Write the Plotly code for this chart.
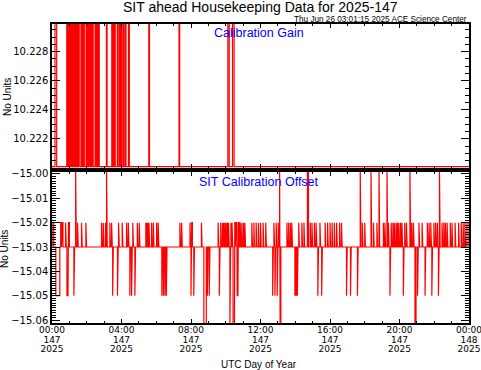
import plotly.graph_objects as go
from plotly.subplots import make_subplots

# ---------------- data ----------------
# Calibration Gain: baseline low value with short excursions to the high value (hours UTC)
gain_low = 10.2201
gain_high = 10.2300
gain_start = [0.17, 0.85, 0.94, 1.02, 1.10, 1.18, 1.27, 1.35, 1.44, 1.53, 1.70, 1.80,
              1.96, 2.04, 2.13, 2.22, 2.31, 2.48, 2.58, 2.68, 3.13, 3.44, 3.52, 3.60,
              3.76, 3.88, 3.98, 4.10, 4.22, 4.40, 5.57, 7.31, 10.12, 10.39]
gain_end = [0.27, 0.89, 1.00, 1.08, 1.16, 1.24, 1.33, 1.41, 1.50, 1.61, 1.75, 1.86,
            2.02, 2.10, 2.19, 2.28, 2.37, 2.52, 2.62, 2.72, 3.17, 3.48, 3.56, 3.64,
            3.80, 3.92, 4.02, 4.14, 4.26, 4.45, 5.61, 7.35, 10.20, 10.48]

# SIT Calibration Offset: baseline with excursions (start hour, end hour, value)
off_base = -15.03
off_start = [0.00, 0.22, 0.50, 0.58, 0.78, 0.86, 0.95, 1.26, 1.36, 1.47, 1.70, 1.95,
             2.85, 2.95, 3.08, 3.14, 3.33, 3.43, 3.49, 3.77, 3.83, 4.04, 4.29, 4.39,
             4.48, 4.58, 4.65, 4.77, 4.91, 5.02, 5.40, 5.46, 5.52, 5.58, 5.73, 5.83,
             6.02, 6.11, 6.32, 6.41, 6.50, 6.58, 7.36, 7.46, 7.94, 8.00, 8.04, 8.16,
             8.60, 8.74, 8.94, 9.05, 9.56, 9.63, 9.71, 9.81, 9.87, 9.95, 10.02, 10.10,
             10.16, 10.24, 10.30, 10.36, 10.42, 10.52, 10.60, 10.66, 10.73, 10.83, 10.92, 11.02,
             11.10, 11.50, 11.62, 11.75, 11.88, 12.00, 12.15, 12.30, 12.70, 12.77, 12.83, 12.90,
             12.96, 13.02, 13.10, 13.13, 13.52, 13.62, 13.72, 13.80, 13.98, 14.05, 14.12, 14.20,
             14.38, 14.50, 14.70, 14.86, 14.96, 15.10, 15.20, 15.30, 15.42, 15.52, 15.72, 15.86,
             16.00, 16.12, 16.25, 16.38, 16.55, 16.66, 16.95, 17.18, 17.58, 17.74, 17.86, 18.00,
             18.36, 18.50, 18.70, 18.82, 19.07, 19.16, 19.28, 19.36, 19.45, 19.52, 19.62, 19.70,
             19.80, 19.88, 19.96, 20.06, 20.14, 20.22, 20.30, 20.40, 20.60, 20.70, 20.80, 20.89,
             21.04, 21.12, 21.30, 21.47, 21.60, 21.70, 21.80, 21.86, 21.98, 22.08, 22.18, 22.24,
             22.30, 22.45, 22.55, 22.64, 22.74, 22.92, 23.02, 23.20, 23.40, 23.55, 23.66, 23.76,
             23.88]
off_end = [0.10, 0.45, 0.55, 0.63, 0.82, 0.92, 1.00, 1.30, 1.40, 1.51, 1.74, 1.99,
           2.89, 2.99, 3.12, 3.18, 3.37, 3.47, 3.53, 3.81, 3.87, 4.08, 4.33, 4.43,
           4.52, 4.62, 4.69, 4.81, 4.95, 5.06, 5.44, 5.50, 5.56, 5.62, 5.77, 5.87,
           6.06, 6.15, 6.36, 6.45, 6.54, 6.62, 7.40, 7.50, 7.98, 8.04, 8.08, 8.20,
           8.64, 8.88, 8.98, 9.09, 9.60, 9.67, 9.75, 9.85, 9.91, 9.99, 10.06, 10.14,
           10.20, 10.28, 10.34, 10.40, 10.50, 10.56, 10.64, 10.70, 10.77, 10.87, 10.96, 11.06,
           11.14, 11.54, 11.66, 11.79, 11.92, 12.04, 12.19, 12.34, 12.74, 12.81, 12.87, 12.94,
           13.00, 13.06, 13.13, 13.17, 13.56, 13.66, 13.76, 13.84, 14.02, 14.09, 14.16, 14.24,
           14.42, 14.54, 14.76, 14.90, 15.00, 15.14, 15.24, 15.34, 15.46, 15.56, 15.76, 15.90,
           16.04, 16.16, 16.29, 16.42, 16.59, 16.70, 16.99, 17.22, 17.62, 17.78, 17.90, 18.04,
           18.40, 18.54, 18.74, 18.86, 19.11, 19.20, 19.32, 19.40, 19.49, 19.56, 19.66, 19.74,
           19.84, 19.92, 20.00, 20.10, 20.18, 20.26, 20.34, 20.44, 20.64, 20.74, 20.84, 20.95,
           21.08, 21.16, 21.34, 21.51, 21.64, 21.74, 21.84, 21.90, 22.02, 22.12, 22.22, 22.28,
           22.34, 22.49, 22.59, 22.68, 22.78, 22.96, 23.06, 23.24, 23.44, 23.59, 23.70, 23.80,
           24.00]
A, B, D, E = -14.998, -15.02, -15.05, -15.062
off_level = [B, D, B, B, B, D, B, D, A, B, B, B,
             B, B, B, A, B, B, D, D, B, B, B, B,
             D, D, B, D, B, B, B, B, B, B, B, B,
             B, B, D, D, D, D, B, B, B, D, B, D,
             B, E, D, D, B, D, B, B, B, B, B, B,
             B, E, B, B, E, B, B, D, B, B, B, B,
             B, B, B, B, B, B, B, B, D, B, D, B,
             D, B, A, E, B, B, B, B, D, D, D, B,
             B, B, A, B, B, B, B, D, B, D, B, B,
             B, B, B, B, B, B, D, D, D, A, B, B,
             A, B, B, A, B, B, A, B, D, B, B, B,
             B, B, B, B, B, D, B, B, A, B, B, E,
             D, B, B, D, B, B, B, D, B, B, B, D,
             A, B, B, B, B, B, B, B, B, B, B, B,
             B]

x_tickvals = [0, 4, 8, 12, 16, 20, 24]
x_tick_time = ["00:00", "04:00", "08:00", "12:00", "16:00", "20:00", "00:00"]
x_tick_day = ["147", "147", "147", "147", "147", "147", "148"]
x_tick_year = ["2025", "2025", "2025", "2025", "2025", "2025", "2025"]
gain_ticks = [10.222, 10.224, 10.226, 10.228]
off_ticks = [-15.00, -15.01, -15.02, -15.03, -15.04, -15.05, -15.06]


def step_series(starts, ends, levels, base):
    xs, ys = [0.0], [base]
    for s, e, l in zip(starts, ends, levels):
        xs += [s, s, e, e]
        ys += [base, l, l, base]
    xs.append(24.0)
    ys.append(base)
    return xs, ys


gx, gy = step_series(gain_start, gain_end, [gain_high] * len(gain_start), gain_low)
ox, oy = step_series(off_start, off_end, off_level, off_base)

# ---------------- figure ----------------
W, H = 481, 370
ml, mr, mt, mb = 52, 12, 24, 47
ph = H - mt - mb
top_lo = 1 - (168 - mt) / ph
bot_hi = 1 - (172 - mt) / ph

fig = make_subplots(rows=2, cols=1)
fig.add_trace(go.Scatter(x=gx, y=gy, mode="lines", line=dict(color="#ff0000", width=1.2),
                         hoverinfo="skip", showlegend=False), row=1, col=1)
fig.add_trace(go.Scatter(x=ox, y=oy, mode="lines", line=dict(color="#ff0000", width=1.2),
                         hoverinfo="skip", showlegend=False), row=2, col=1)

font = "Liberation Sans, Arial, sans-serif"
tfont = "DejaVu Sans, sans-serif"
xfont = dict(family=tfont, size=9, color="black")
axcommon = dict(showline=True, linecolor="black", linewidth=1.5, mirror="ticks",
                showgrid=False, zeroline=False, ticks="inside", tickcolor="black",
                automargin=False)

fig.update_xaxes(range=[0, 24], tickmode="array", tickvals=x_tickvals, ticktext=x_tick_time,
                 ticklen=4, tickwidth=1, tickfont=xfont, ticklabeloverflow="allow",
                 ticklabelstandoff=-3,
                 minor=dict(ticks="inside", tickmode="linear", tick0=0, dtick=1, ticklen=2,
                            tickcolor="black"), **axcommon)
fig.update_xaxes(showticklabels=False, row=1, col=1)
fig.update_xaxes(domain=[0, 1])

# extra label rows (day of year, year) as overlaid axes on the lower panel
row_axes = dict(overlaying="x2", anchor="y2", side="bottom", domain=[0, 1], range=[0, 24],
                tickmode="array", tickvals=x_tickvals, showline=False, ticks="",
                showgrid=False, zeroline=False, automargin=False, tickfont=xfont,
                ticklabeloverflow="allow")
fig.update_layout(xaxis3=dict(ticktext=x_tick_day, ticklabelstandoff=10, **row_axes),
                  xaxis4=dict(ticktext=x_tick_year, ticklabelstandoff=19, **row_axes))
fig.add_trace(go.Scatter(x=[None], y=[None], xaxis="x3", yaxis="y2", showlegend=False,
                         hoverinfo="skip"))
fig.add_trace(go.Scatter(x=[None], y=[None], xaxis="x4", yaxis="y2", showlegend=False,
                         hoverinfo="skip"))

yfont = dict(family=tfont, size=10, color="black")
fig.update_yaxes(range=[10.2200, 10.2299], tickmode="array", tickvals=gain_ticks,
                 tickformat=".3f", ticklen=8, domain=[top_lo, 1.0], tickfont=yfont,
                 minor=dict(ticks="inside", tickmode="linear", tick0=10.222, dtick=0.0005,
                            ticklen=4, tickcolor="black"), row=1, col=1, **axcommon)
fig.update_yaxes(range=[-15.0612, -14.9992], tickmode="array", tickvals=off_ticks,
                 tickformat=".2f", ticklen=8, domain=[0, bot_hi], tickfont=yfont,
                 minor=dict(ticks="inside", tickmode="linear", tick0=-15.06, dtick=0.001,
                            ticklen=4, tickcolor="black"), row=2, col=1, **axcommon)

def px_x(x):
    return (x - ml) / (W - ml - mr)

def px_y(y):
    return 1 - (y - mt) / ph

annotations = [
    dict(text="SIT ahead Housekeeping Data for 2025-147", x=px_x(260), y=px_y(-1.5),
         yanchor="top", font=dict(family=font, size=14, color="black")),
    dict(text="Thu Jun 26 03:01:15 2025 ACE Science Center", x=px_x(468), y=px_y(25.5),
         xanchor="right", yanchor="bottom", font=dict(family=font, size=8.2, color="black")),
    dict(text="Calibration Gain", x=px_x(259), y=px_y(33),
         font=dict(family=font, size=12.5, color="#0000ff")),
    dict(text="SIT Calibration Offset", x=px_x(259), y=px_y(182),
         font=dict(family=font, size=12.5, color="#0000ff")),
    dict(text="No Units", x=px_x(7), y=px_y(97), textangle=-90,
         font=dict(family=font, size=10, color="black")),
    dict(text="No Units", x=px_x(4), y=px_y(249), textangle=-90,
         font=dict(family=font, size=10, color="black")),
    dict(text="UTC Day of Year", x=px_x(259), y=px_y(364),
         font=dict(family=font, size=10, color="black")),
]
for a in annotations:
    a.setdefault("xanchor", "center")
    a.setdefault("yanchor", "middle")
    a.update(xref="paper", yref="paper", showarrow=False, borderpad=0)

fig.update_layout(width=W, height=H, margin=dict(l=ml, r=mr, t=mt, b=mb, autoexpand=False),
                  paper_bgcolor="white", plot_bgcolor="white", annotations=annotations,
                  font=dict(family=font))

fig.write_html("out.html", config={"displayModeBar": False},
               post_script="document.body.style.margin='0';")
